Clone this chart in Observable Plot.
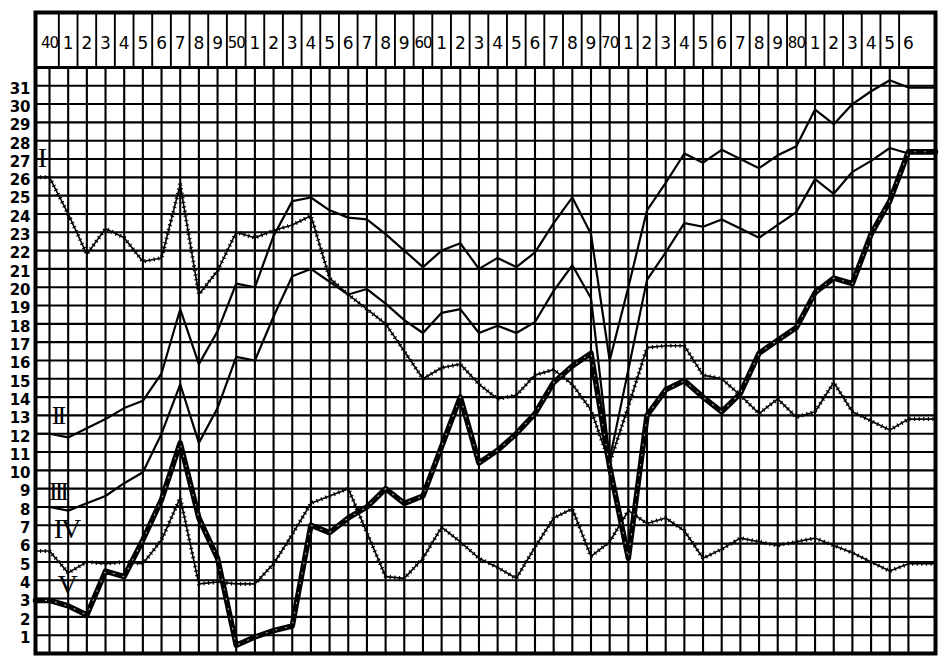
<!DOCTYPE html>
<html>
<head>
<meta charset="utf-8">
<script src="https://cdn.jsdelivr.net/npm/d3@7"></script>
<script src="https://cdn.jsdelivr.net/npm/@observablehq/plot@0.6"></script>
<style>
  html, body { margin: 0; padding: 0; background: #fff; }
  #chart { width: 943px; height: 664px; }
</style>
</head>
<body>
<div id="chart"></div>
<script>
// ---- Data ----
const years = [1840,1841,1842,1843,1844,1845,1846,1847,1848,1849,
               1850,1851,1852,1853,1854,1855,1856,1857,1858,1859,
               1860,1861,1862,1863,1864,1865,1866,1867,1868,1869,
               1870,1871,1872,1873,1874,1875,1876,1877,1878,1879,
               1880,1881,1882,1883,1884,1885,1886];

const yTickLabels = [1,2,3,4,5,6,7,8,9,10,11,12,13,14,15,16,17,18,19,20,
                     21,22,23,24,25,26,27,28,29,30,31];

const seriesNames = ["I", "II", "III", "IV", "V"];

const seriesI = [26.0,24.0,21.8,23.2,22.7,21.4,21.6,25.6,19.6,20.9,
                 23.0,22.7,23.1,23.4,23.9,20.5,19.6,18.8,18.0,16.5,
                 15.0,15.6,15.8,14.7,13.9,14.1,15.2,15.5,14.7,13.3,
                 10.4,13.5,16.7,16.8,16.8,15.2,15.0,14.1,13.1,13.9,
                 12.9,13.2,14.8,13.2,12.7,12.2,12.8];

const seriesII = [12.0,11.8,12.3,12.8,13.4,13.8,15.3,18.8,15.8,17.6,
                  20.2,20.0,22.8,24.7,24.9,24.2,23.8,23.7,22.9,22.0,
                  21.1,22.0,22.4,21.0,21.6,21.1,21.9,23.5,24.9,22.9,
                  16.0,20.0,24.2,25.7,27.3,26.8,27.5,27.0,26.5,27.2,
                  27.7,29.7,28.9,30.0,30.7,31.3,30.9];

const seriesIII = [8.0,7.8,8.2,8.6,9.3,9.9,12.0,14.7,11.5,13.4,
                   16.2,16.0,18.4,20.6,21.0,20.3,19.6,19.9,19.1,18.2,
                   17.5,18.6,18.8,17.5,17.9,17.5,18.1,19.8,21.2,19.4,
                   10.6,15.5,20.4,21.9,23.5,23.3,23.7,23.2,22.7,23.4,
                   24.1,25.9,25.1,26.3,26.9,27.6,27.3];

const seriesIV = [5.6,4.4,5.0,4.9,5.0,4.9,6.2,8.5,3.8,3.9,
                  3.8,3.8,4.9,6.5,8.2,8.6,9.0,6.6,4.2,4.1,
                  5.2,6.9,6.1,5.2,4.7,4.1,5.8,7.4,7.9,5.3,
                  6.1,7.8,7.1,7.4,6.7,5.2,5.7,6.3,6.1,5.9,
                  6.1,6.3,5.9,5.5,5.0,4.5,4.9];

const seriesV = [2.9,2.6,2.1,4.5,4.2,6.2,8.4,11.5,7.4,5.2,
                 0.45,0.9,1.25,1.5,7.0,6.6,7.4,8.0,9.0,8.2,
                 8.6,11.3,14.0,10.4,11.1,12.0,13.1,14.8,15.7,16.4,
                 10.2,5.2,13.0,14.4,14.9,14.0,13.2,14.2,16.4,17.1,
                 17.8,19.7,20.5,20.2,22.9,24.7,27.4];

// ---- Layout ----
const X0 = 1839.25, X1 = 1887.45;   // frame edges in year units
const GRID_TOP = 32, BAND_TOP = 35;  // year band sits above the grid

// Lines run flat from the first/last year to the frame edges, as in the original
function toPoints(values) {
  const pts = years.map((yr, i) => ({x: yr, y: values[i]}));
  return [{x: X0, y: values[0]}, ...pts, {x: X1, y: values[values.length - 1]}];
}
const ptsI = toPoints(seriesI), ptsII = toPoints(seriesII), ptsIII = toPoints(seriesIII),
      ptsIV = toPoints(seriesIV), ptsV = toPoints(seriesV);

const yearLabel = yr => (yr % 10 === 0 ? String(yr % 100) : String(yr % 10));
const decadeYears = years.filter(yr => yr % 10 === 0);
const otherYears = years.filter(yr => yr % 10 !== 0);

const sans = "DejaVu Sans, Liberation Sans, sans-serif";
const serif = "Liberation Serif, DejaVu Serif, serif";

const dotted = (pts) => [
  Plot.line(pts, {x: "x", y: "y", stroke: "#000", strokeWidth: 1.6, strokeLinejoin: "miter"}),
  Plot.line(pts, {x: "x", y: "y", stroke: "#000", strokeWidth: 4, strokeDasharray: "1.2,3.4", strokeLinecap: "butt"})
];

const chart = Plot.plot({
  width: 943,
  height: 664,
  marginLeft: 35,
  marginRight: 8,
  marginTop: 12,
  marginBottom: 11,
  x: {domain: [X0, X1], axis: null},
  y: {domain: [0, BAND_TOP], axis: null},
  style: {background: "#fff", color: "#000"},
  marks: [
    // grid
    Plot.ruleX(years, {y1: 0, y2: GRID_TOP, stroke: "#000", strokeWidth: 2.1}),
    Plot.ruleY(yTickLabels, {x1: X0, x2: X1, stroke: "#000", strokeWidth: 2.1}),
    Plot.ruleY([GRID_TOP], {x1: X0, x2: X1, stroke: "#000", strokeWidth: 3}),
    // year band separators and labels
    Plot.ruleX(years.slice(0, -1), {x: d => d + 0.5, y1: GRID_TOP, y2: BAND_TOP, stroke: "#000", strokeWidth: 1.9}),
    Plot.text(otherYears, {x: d => d, y: 33.3, text: yearLabel, fontSize: 17, fontFamily: sans, fill: "#000"}),
    Plot.text(decadeYears, {x: d => d, y: 33.3, text: yearLabel, fontSize: 15, fontFamily: sans, fill: "#000"}),
    // y axis labels
    Plot.text(yTickLabels, {x: X0, y: d => d, dx: -5, dy: 3, text: d => String(d), textAnchor: "end",
      fontSize: 15, fontWeight: "bold", fontFamily: sans, fill: "#000"}),
    // series
    ...dotted(ptsIV),
    ...dotted(ptsI),
    Plot.line(ptsIII, {x: "x", y: "y", stroke: "#000", strokeWidth: 2.2}),
    Plot.line(ptsII, {x: "x", y: "y", stroke: "#000", strokeWidth: 2.2}),
    Plot.line(ptsV, {x: "x", y: "y", stroke: "#000", strokeWidth: 5.5}),
    Plot.line(ptsV, {x: "x", y: "y", stroke: "#fff", strokeWidth: 1.1, strokeDasharray: "1,9", strokeOpacity: 0.7}),
    // series labels (Roman numerals)
    Plot.text([seriesNames[0]], {x: years[0], y: seriesI[0], dx: -7, dy: -19, text: d => d, fontSize: 28, fontFamily: serif, fill: "#000"}),
    Plot.text([seriesNames[1]], {x: years[0], y: seriesII[0], dx: 8, dy: -18, text: d => d, fontSize: 26, fontFamily: serif, fill: "#000"}),
    Plot.text([seriesNames[2]], {x: years[0], y: seriesIII[0], dx: 8, dy: -15, text: d => d, fontSize: 26, fontFamily: serif, fill: "#000"}),
    Plot.text([seriesNames[3]], {x: years[0], y: seriesIV[0], dx: 17, dy: -22, text: d => d, fontSize: 28, fontFamily: serif, fill: "#000"}),
    Plot.text([seriesNames[4]], {x: years[0], y: seriesV[0], dx: 18, dy: -15, text: d => d, fontSize: 28, fontFamily: serif, fill: "#000"}),
    // frame
    Plot.frame({stroke: "#000", strokeWidth: 4})
  ]
});

// tighten the Roman numerals / decade labels a little, as in the engraving
d3.select(chart).selectAll("text").each(function() {
  const t = this.textContent;
  if (t === "II" || t === "III") this.setAttribute("letter-spacing", "-3");
  if (t === "IV") this.setAttribute("letter-spacing", "-2");
  if (/^(40|50|60|70|80)$/.test(t)) this.setAttribute("letter-spacing", "-1");
});

document.getElementById("chart").appendChild(chart);
</script>
</body>
</html>
